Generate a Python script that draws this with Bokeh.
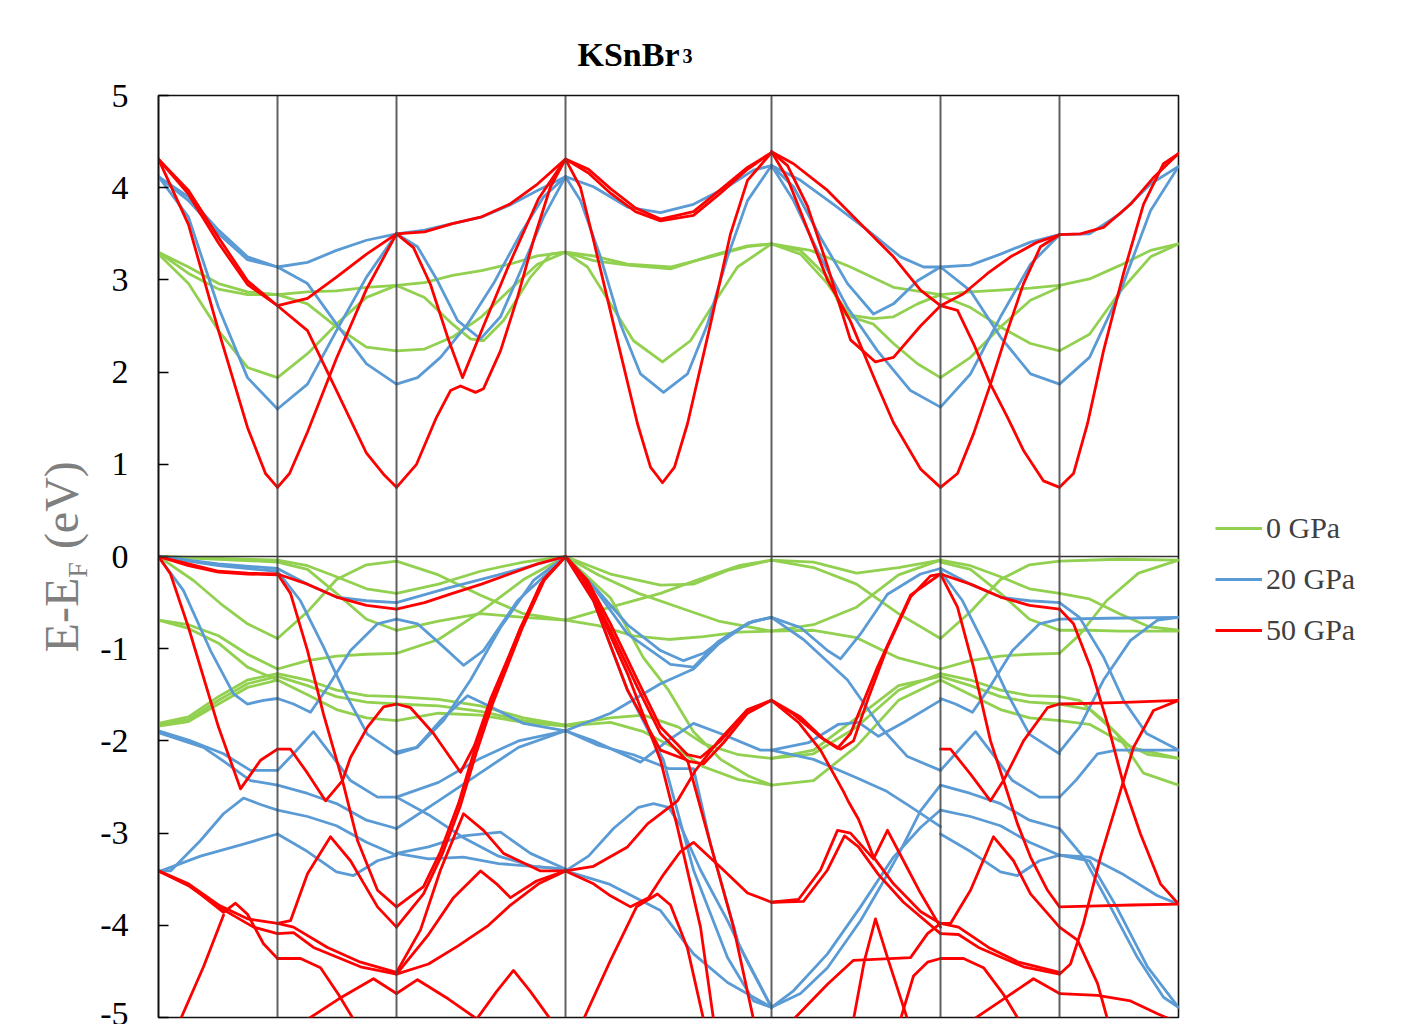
import math
from bokeh.plotting import figure
from bokeh.layouts import column, row
from bokeh.models import Range1d, FixedTicker, Span, Legend, LegendItem
from bokeh.core.properties import value
from bokeh.embed import file_html
from bokeh.resources import INLINE

# ---------------- data ----------------
K_NODES = [0, 119, 238, 407, 613, 782, 901, 1020]
Y_TICKS = [-5, -4, -3, -2, -1, 0, 1, 2, 3, 4, 5]
SERIES = ["0 GPa", "20 GPa", "50 GPa"]
TITLE_MAIN = "KSnBr"
TITLE_SUB = "3"
YLABEL_PARTS = ["E-E", "F", "(eV)"]

green_cb = [
    [(0, 3.30), (30, 3.14), (60, 2.96), (89, 2.87), (119, 2.84)],
    [(0, 3.30), (30, 3.07), (60, 2.90), (89, 2.84), (119, 2.84)],
    [(0, 3.28), (30, 2.96), (60, 2.45), (89, 2.05), (119, 1.94)],
    [(119, 2.84), (149, 2.87), (178, 2.88), (208, 2.92), (238, 2.94)],
    [(119, 2.84), (149, 2.74), (178, 2.49), (208, 2.27), (238, 2.23)],
    [(119, 1.94), (149, 2.20), (178, 2.52), (208, 2.81), (238, 2.94)],
    [(238, 2.94), (266, 2.97), (294, 3.05), (323, 3.10), (351, 3.17), (379, 3.26), (407, 3.30)],
    [(238, 2.23), (266, 2.25), (294, 2.38), (323, 2.60), (351, 2.89), (379, 3.17), (407, 3.30)],
    [(238, 2.94), (266, 2.81), (294, 2.52), (312, 2.36), (325, 2.34), (345, 2.56), (372, 3.03), (392, 3.28), (407, 3.30)],
    [(407, 3.30), (435, 3.26), (469, 3.17), (512, 3.14), (552, 3.25), (589, 3.36), (613, 3.39)],
    [(407, 3.30), (435, 3.21), (469, 3.16), (512, 3.12), (552, 3.26), (589, 3.37), (613, 3.39)],
    [(407, 3.30), (429, 3.14), (452, 2.74), (475, 2.34), (504, 2.11), (532, 2.34), (555, 2.74), (579, 3.14), (613, 3.39)],
    [(613, 3.39), (652, 3.32), (692, 3.14), (735, 2.92), (782, 2.84)],
    [(613, 3.39), (642, 3.32), (669, 3.03), (685, 2.63), (715, 2.58), (735, 2.60), (759, 2.74), (782, 2.84)],
    [(613, 3.39), (642, 3.28), (669, 2.96), (692, 2.60), (715, 2.52), (735, 2.31), (759, 2.09), (782, 1.94)],
    [(782, 2.84), (812, 2.87), (842, 2.89), (872, 2.91), (901, 2.94)],
    [(782, 2.83), (812, 2.70), (842, 2.49), (872, 2.31), (901, 2.23)],
    [(782, 1.94), (812, 2.16), (842, 2.49), (872, 2.78), (901, 2.92)],
    [(901, 2.94), (931, 3.01), (962, 3.16), (992, 3.32), (1020, 3.39)],
    [(901, 2.23), (931, 2.41), (962, 2.88), (992, 3.25), (1020, 3.39)],
]

green_vb = [
    [(0, 0.0), (60, -0.02), (119, -0.04)],
    [(0, 0.0), (60, -0.03), (119, -0.06)],
    [(0, 0.0), (35, -0.26), (62, -0.51), (89, -0.73), (119, -0.89)],
    [(0, -0.69), (30, -0.74), (60, -0.86), (89, -1.06), (119, -1.22)],
    [(0, -0.69), (30, -0.78), (60, -0.94), (89, -1.20), (119, -1.34)],
    [(0, -1.81), (30, -1.74), (60, -1.52), (89, -1.34), (119, -1.27)],
    [(0, -1.83), (30, -1.77), (60, -1.56), (89, -1.38), (119, -1.30)],
    [(0, -1.84), (30, -1.79), (60, -1.60), (89, -1.42), (119, -1.34)],
    [(119, -0.04), (149, -0.10), (178, -0.22), (208, -0.35), (238, -0.40)],
    [(119, -0.06), (149, -0.14), (178, -0.40), (208, -0.68), (238, -0.80)],
    [(119, -0.89), (149, -0.60), (178, -0.25), (208, -0.09), (238, -0.05)],
    [(119, -1.22), (149, -1.13), (178, -1.08), (208, -1.06), (238, -1.05)],
    [(119, -1.27), (149, -1.34), (178, -1.45), (208, -1.51), (238, -1.52)],
    [(119, -1.30), (149, -1.40), (178, -1.52), (208, -1.58), (238, -1.60)],
    [(119, -1.34), (149, -1.50), (178, -1.66), (208, -1.75), (238, -1.78)],
    [(238, -0.05), (280, -0.20), (322, -0.42), (365, -0.62), (407, -0.69)],
    [(238, -0.40), (280, -0.30), (322, -0.16), (365, -0.06), (407, 0.0)],
    [(238, -0.80), (280, -0.70), (322, -0.62), (365, -0.66), (407, -0.69)],
    [(238, -1.05), (280, -0.90), (322, -0.60), (365, -0.25), (407, 0.0)],
    [(238, -1.52), (280, -1.55), (322, -1.62), (365, -1.75), (407, -1.83)],
    [(238, -1.60), (280, -1.62), (322, -1.68), (365, -1.78), (407, -1.83)],
    [(238, -1.78), (280, -1.70), (322, -1.72), (365, -1.80), (407, -1.84)],
    [(407, 0.0), (452, -0.19), (502, -0.31), (535, -0.30), (569, -0.15), (613, -0.04)],
    [(407, -0.69), (452, -0.55), (502, -0.40), (540, -0.25), (580, -0.10), (613, -0.04)],
    [(407, 0.0), (440, -0.20), (480, -0.40), (520, -0.55), (560, -0.70), (613, -0.81)],
    [(407, -0.69), (440, -0.75), (475, -0.86), (510, -0.90), (545, -0.87), (580, -0.82), (613, -0.81)],
    [(407, 0.0), (452, -0.45), (485, -1.10), (510, -1.45), (535, -1.90), (562, -2.20), (590, -2.38), (613, -2.48)],
    [(407, -1.83), (452, -1.75), (485, -1.72), (520, -1.85), (545, -2.03), (580, -2.15), (613, -2.19)],
    [(407, -1.84), (452, -1.80), (485, -1.90), (520, -2.10), (545, -2.28), (580, -2.42), (613, -2.48)],
    [(613, -0.04), (655, -0.06), (698, -0.18), (740, -0.12), (782, -0.04)],
    [(613, -0.04), (655, -0.12), (698, -0.30), (740, -0.62), (782, -0.89)],
    [(613, -0.81), (655, -0.80), (698, -0.88), (740, -1.10), (782, -1.22)],
    [(613, -0.81), (655, -0.74), (698, -0.55), (740, -0.20), (782, -0.04)],
    [(613, -2.19), (655, -2.14), (698, -1.85), (740, -1.45), (782, -1.27)],
    [(613, -2.48), (655, -2.43), (698, -2.06), (740, -1.56), (782, -1.34)],
    [(613, -2.19), (655, -2.10), (698, -1.75), (740, -1.40), (782, -1.30)],
    [(782, -0.04), (812, -0.10), (842, -0.22), (871, -0.35), (901, -0.40)],
    [(782, -0.06), (812, -0.14), (842, -0.40), (871, -0.68), (901, -0.80)],
    [(782, -0.89), (812, -0.60), (842, -0.25), (871, -0.09), (901, -0.05)],
    [(782, -1.22), (812, -1.13), (842, -1.08), (871, -1.06), (901, -1.05)],
    [(782, -1.27), (812, -1.34), (842, -1.45), (871, -1.51), (901, -1.52)],
    [(782, -1.30), (812, -1.40), (842, -1.52), (871, -1.58), (901, -1.60)],
    [(782, -1.34), (812, -1.50), (842, -1.66), (871, -1.75), (901, -1.78)],
    [(901, -0.05), (960, -0.03), (1020, -0.04)],
    [(901, -0.40), (931, -0.46), (961, -0.62), (990, -0.76), (1020, -0.80)],
    [(901, -0.80), (931, -0.80), (961, -0.81), (990, -0.81), (1020, -0.81)],
    [(901, -1.05), (921, -0.85), (948, -0.48), (980, -0.18), (1020, -0.04)],
    [(901, -1.52), (921, -1.56), (945, -1.78), (972, -2.07), (1020, -2.19)],
    [(901, -1.60), (931, -1.66), (958, -1.92), (985, -2.35), (1020, -2.48)],
    [(901, -1.78), (931, -1.82), (961, -2.00), (990, -2.15), (1020, -2.19)],
]

blue_cb = [
    [(0, 4.12), (30, 3.90), (60, 3.54), (89, 3.25), (119, 3.14)],
    [(0, 4.12), (30, 3.86), (60, 3.50), (89, 3.22), (119, 3.14)],
    [(0, 4.12), (30, 3.68), (60, 2.70), (89, 1.94), (119, 1.60)],
    [(119, 3.14), (149, 3.19), (178, 3.32), (208, 3.43), (238, 3.50)],
    [(119, 3.14), (149, 2.96), (178, 2.52), (208, 2.09), (238, 1.87)],
    [(119, 1.60), (149, 1.87), (178, 2.45), (208, 3.03), (238, 3.50)],
    [(238, 3.50), (266, 3.54), (294, 3.61), (323, 3.68), (351, 3.81), (379, 3.97), (407, 4.12)],
    [(238, 3.50), (259, 3.36), (279, 2.99), (299, 2.56), (322, 2.36), (342, 2.60), (365, 3.17), (385, 3.68), (407, 4.12)],
    [(238, 1.87), (259, 1.94), (282, 2.16), (309, 2.52), (335, 2.96), (362, 3.50), (385, 3.90), (407, 4.12)],
    [(407, 4.12), (435, 4.01), (469, 3.79), (502, 3.73), (535, 3.82), (569, 4.01), (595, 4.19), (613, 4.24)],
    [(407, 4.12), (422, 3.86), (442, 3.25), (462, 2.52), (482, 1.98), (505, 1.78), (529, 1.98), (549, 2.52), (569, 3.25), (589, 3.86), (613, 4.24)],
    [(613, 4.24), (642, 4.08), (675, 3.82), (709, 3.54), (742, 3.25), (765, 3.14), (782, 3.14)],
    [(613, 4.24), (635, 4.01), (662, 3.46), (689, 2.96), (715, 2.63), (735, 2.74), (759, 2.99), (782, 3.14)],
    [(613, 4.24), (635, 3.86), (662, 3.25), (689, 2.70), (719, 2.23), (752, 1.80), (782, 1.62)],
    [(782, 3.14), (812, 3.16), (842, 3.28), (872, 3.41), (901, 3.49)],
    [(782, 3.14), (812, 2.88), (842, 2.38), (872, 1.98), (901, 1.87)],
    [(782, 1.62), (812, 1.98), (842, 2.60), (872, 3.17), (901, 3.49)],
    [(901, 3.49), (931, 3.50), (962, 3.72), (992, 4.04), (1020, 4.23)],
    [(901, 1.87), (931, 2.16), (962, 2.88), (992, 3.75), (1020, 4.23)],
]

blue_vb = [
    [(0, 0.0), (60, -0.08), (119, -0.13)],
    [(0, 0.0), (60, -0.10), (119, -0.16)],
    [(0, 0.0), (25, -0.37), (52, -1.02), (75, -1.49), (89, -1.60), (105, -1.56), (119, -1.54)],
    [(0, -1.89), (30, -1.99), (65, -2.14), (92, -2.32), (119, -2.32)],
    [(0, -1.91), (45, -2.07), (65, -2.22), (92, -2.43), (119, -2.48)],
    [(0, -3.41), (12, -3.41), (42, -3.08), (65, -2.79), (85, -2.62), (102, -2.69), (119, -2.75)],
    [(0, -3.42), (42, -3.25), (85, -3.12), (119, -3.01)],
    [(119, -0.13), (149, -0.30), (178, -0.44), (208, -0.48), (238, -0.50)],
    [(119, -0.16), (142, -0.48), (165, -0.98), (185, -1.45), (209, -1.93), (238, -2.14)],
    [(119, -1.54), (135, -1.60), (152, -1.69), (169, -1.42), (192, -1.02), (219, -0.73), (238, -0.68)],
    [(119, -2.32), (135, -2.14), (155, -1.90), (172, -2.14), (192, -2.43), (219, -2.61), (238, -2.61)],
    [(119, -2.48), (149, -2.57), (178, -2.68), (208, -2.86), (238, -2.95)],
    [(119, -2.75), (149, -2.82), (178, -2.92), (208, -3.10), (238, -3.24)],
    [(119, -3.01), (149, -3.20), (178, -3.42), (195, -3.46), (219, -3.30), (238, -3.24)],
    [(238, -0.50), (290, -0.34), (340, -0.20), (407, 0.0)],
    [(238, -0.68), (259, -0.73), (285, -0.98), (305, -1.18), (325, -1.02), (359, -0.48), (407, 0.0)],
    [(238, -2.14), (259, -2.07), (285, -1.78), (312, -1.34), (342, -0.77), (375, -0.26), (407, 0.0)],
    [(238, -2.12), (258, -2.07), (282, -1.78), (309, -1.51), (332, -1.63), (365, -1.81), (407, -1.89)],
    [(238, -2.61), (280, -2.45), (320, -2.20), (360, -2.00), (407, -1.89)],
    [(238, -2.61), (270, -2.80), (305, -3.05), (340, -3.25), (375, -3.36), (407, -3.39)],
    [(238, -3.22), (270, -3.28), (305, -3.26), (340, -3.33), (407, -3.39)],
    [(238, -3.22), (270, -3.15), (305, -3.03), (342, -2.99), (372, -3.22), (407, -3.39)],
    [(238, -2.95), (280, -2.65), (320, -2.36), (360, -2.07), (407, -1.89)],
    [(407, 0.0), (440, -0.38), (469, -0.74), (502, -1.02), (525, -1.13), (545, -1.05), (570, -0.85), (595, -0.70), (613, -0.66)],
    [(407, 0.0), (435, -0.33), (469, -0.84), (512, -1.17), (535, -1.20), (560, -0.92), (590, -0.72), (613, -0.66)],
    [(407, -1.89), (452, -1.70), (502, -1.38), (535, -1.22), (560, -0.95), (590, -0.72), (613, -0.66)],
    [(407, 0.0), (435, -0.48), (469, -1.45), (505, -2.21), (535, -3.40), (569, -4.35), (595, -4.82), (613, -4.89)],
    [(407, -1.89), (440, -2.05), (475, -2.15), (510, -2.30), (535, -2.30), (552, -3.12), (580, -4.20), (613, -4.89)],
    [(407, -3.41), (450, -3.55), (502, -3.84), (535, -4.31), (569, -4.62), (613, -4.89)],
    [(407, -1.89), (435, -2.00), (482, -2.23), (509, -2.00), (535, -1.81), (562, -1.92), (602, -2.10), (613, -2.10)],
    [(407, -3.41), (430, -3.25), (455, -2.95), (480, -2.72), (495, -2.68), (510, -2.72), (522, -2.92), (542, -3.40), (569, -3.95), (589, -4.40), (613, -4.89)],
    [(613, -0.66), (642, -0.77), (669, -1.02), (682, -1.11), (702, -0.84), (729, -0.41), (762, -0.19), (782, -0.13)],
    [(613, -0.66), (645, -0.90), (689, -1.34), (722, -1.85), (749, -2.17), (782, -2.32)],
    [(613, -2.10), (650, -2.02), (680, -1.82), (700, -1.80), (720, -1.95), (745, -1.80), (782, -1.56)],
    [(613, -2.10), (655, -2.20), (698, -2.40), (727, -2.54), (750, -2.70), (782, -2.93)],
    [(613, -4.89), (635, -4.71), (669, -4.31), (702, -3.80), (735, -3.26), (762, -2.94), (782, -2.75)],
    [(613, -4.89), (642, -4.74), (669, -4.46), (702, -3.95), (722, -3.58), (742, -3.19), (762, -2.76), (782, -2.48)],
    [(782, -0.13), (812, -0.30), (842, -0.44), (871, -0.48), (901, -0.50)],
    [(782, -0.16), (804, -0.48), (827, -0.98), (847, -1.45), (871, -1.93), (901, -2.14)],
    [(782, -1.54), (797, -1.60), (814, -1.69), (831, -1.42), (854, -1.02), (881, -0.73), (901, -0.68)],
    [(782, -2.32), (797, -2.14), (817, -1.90), (834, -2.14), (854, -2.43), (881, -2.61), (901, -2.61)],
    [(782, -2.48), (812, -2.57), (842, -2.68), (871, -2.86), (901, -2.95)],
    [(782, -2.75), (812, -2.82), (842, -2.92), (871, -3.10), (901, -3.24)],
    [(782, -3.01), (812, -3.20), (842, -3.42), (859, -3.46), (881, -3.30), (901, -3.24)],
    [(901, -0.68), (950, -0.67), (1020, -0.66)],
    [(901, -0.50), (921, -0.66), (945, -1.09), (965, -1.56), (988, -1.92), (1020, -2.10)],
    [(901, -2.12), (921, -1.85), (945, -1.34), (972, -0.91), (999, -0.69), (1020, -0.66)],
    [(901, -2.61), (918, -2.42), (939, -2.14), (958, -2.10), (1020, -2.10)],
    [(901, -2.95), (925, -3.26), (952, -3.80), (979, -4.35), (1005, -4.78), (1020, -4.89)],
    [(901, -3.24), (931, -3.26), (965, -3.45), (999, -3.68), (1020, -3.77)],
    [(901, -3.24), (931, -3.30), (958, -3.80), (989, -4.45), (1020, -4.89)],
]

red_cb = [
    [(0, 4.31), (30, 3.60), (60, 2.45), (89, 1.40), (107, 0.90), (119, 0.75)],
    [(0, 4.31), (30, 3.97), (60, 3.46), (89, 2.99), (119, 2.72)],
    [(0, 4.31), (30, 3.93), (60, 3.40), (89, 2.95), (119, 2.72)],
    [(119, 0.75), (131, 0.90), (149, 1.35), (178, 2.15), (208, 2.90), (238, 3.50)],
    [(119, 2.72), (149, 2.45), (178, 1.80), (208, 1.12), (226, 0.88), (238, 0.75)],
    [(119, 2.72), (149, 2.80), (178, 3.03), (208, 3.28), (238, 3.50)],
    [(238, 3.50), (266, 3.52), (294, 3.61), (322, 3.68), (351, 3.82), (379, 4.04), (407, 4.31)],
    [(238, 3.50), (255, 3.35), (272, 2.95), (290, 2.35), (304, 1.94), (325, 2.50), (350, 3.15), (380, 3.88), (407, 4.31)],
    [(238, 0.75), (258, 1.00), (278, 1.51), (292, 1.80), (302, 1.85), (317, 1.78), (325, 1.82), (342, 2.23), (359, 2.81), (375, 3.43), (392, 4.01), (407, 4.31)],
    [(407, 4.31), (430, 4.20), (452, 3.99), (477, 3.78), (502, 3.66), (535, 3.74), (562, 3.98), (589, 4.22), (613, 4.38)],
    [(407, 4.31), (430, 4.16), (452, 3.94), (477, 3.74), (502, 3.64), (535, 3.70), (562, 3.94), (589, 4.20), (613, 4.38)],
    [(407, 4.31), (422, 4.00), (435, 3.43), (455, 2.52), (479, 1.44), (492, 0.97), (504, 0.80), (516, 0.97), (529, 1.44), (552, 2.52), (572, 3.50), (589, 4.08), (613, 4.38)],
    [(613, 4.39), (635, 4.26), (669, 3.97), (702, 3.61), (735, 3.25), (762, 2.89), (782, 2.72)],
    [(613, 4.39), (629, 4.24), (649, 3.80), (669, 3.15), (692, 2.35), (717, 2.11), (735, 2.16), (762, 2.50), (782, 2.72)],
    [(613, 4.39), (629, 4.10), (649, 3.55), (669, 3.00), (692, 2.55), (717, 1.90), (735, 1.45), (762, 0.95), (782, 0.75)],
    [(782, 2.72), (805, 2.85), (829, 3.07), (852, 3.25), (879, 3.41), (901, 3.49)],
    [(782, 2.72), (799, 2.67), (815, 2.31), (832, 1.87), (849, 1.51), (865, 1.15), (885, 0.82), (901, 0.75)],
    [(782, 0.75), (799, 0.90), (815, 1.33), (832, 1.87), (849, 2.45), (865, 2.96), (882, 3.36), (901, 3.49)],
    [(901, 3.49), (922, 3.50), (945, 3.57), (972, 3.82), (995, 4.11), (1020, 4.37)],
    [(901, 0.75), (915, 0.90), (929, 1.44), (945, 2.23), (965, 3.07), (985, 3.82), (1005, 4.26), (1020, 4.37)],
]

red_vb = [
    [(0, 0.0), (30, -0.08), (60, -0.16), (89, -0.18), (119, -0.19)],
    [(0, 0.0), (30, -0.10), (60, -0.17), (89, -0.19), (119, -0.20)],
    [(0, 0.0), (12, -0.19), (30, -0.77), (60, -1.85), (82, -2.52), (102, -2.21), (119, -2.09)],
    [(0, -3.41), (30, -3.55), (60, -3.78), (89, -3.93), (119, -3.98)],
    [(0, -3.41), (30, -3.57), (60, -3.80), (95, -4.02), (119, -4.09)],
    [(0, -3.41), (30, -3.56), (65, -3.86), (77, -3.76), (89, -3.88), (105, -4.20), (119, -4.36)],
    [(22, -5.02), (45, -4.45), (65, -3.89)],
    [(119, -0.19), (149, -0.30), (178, -0.44), (208, -0.53), (238, -0.57)],
    [(119, -0.19), (132, -0.40), (149, -1.02), (165, -1.71), (184, -2.43), (199, -3.08), (219, -3.62), (238, -3.80)],
    [(119, -2.09), (132, -2.09), (149, -2.35), (167, -2.65), (184, -2.43), (192, -2.18), (209, -1.85), (225, -1.63), (238, -1.60)],
    [(119, -3.98), (132, -3.95), (149, -3.44), (172, -3.04), (192, -3.30), (219, -3.80), (238, -4.02)],
    [(119, -3.98), (135, -4.02), (169, -4.24), (202, -4.40), (238, -4.51)],
    [(119, -4.09), (135, -4.08), (155, -4.24), (202, -4.45), (238, -4.53)],
    [(119, -4.36), (142, -4.36), (162, -4.46), (180, -4.75), (195, -5.02)],
    [(149, -5.02), (180, -4.80), (215, -4.58), (238, -4.74)],
    [(238, -0.57), (266, -0.50), (294, -0.40), (323, -0.30), (351, -0.19), (379, -0.08), (407, 0.0)],
    [(238, -1.60), (252, -1.64), (275, -1.92), (302, -2.34), (316, -2.05), (332, -1.55), (359, -0.86), (382, -0.30), (407, 0.0)],
    [(238, -3.80), (265, -3.58), (282, -3.20), (300, -2.68), (316, -2.10), (332, -1.60), (362, -0.77), (385, -0.25), (407, 0.0)],
    [(238, -4.02), (265, -3.66), (284, -3.22), (302, -2.70), (318, -2.12), (334, -1.60), (364, -0.77), (386, -0.25), (407, 0.0)],
    [(238, -4.51), (262, -4.05), (282, -3.40), (305, -2.79), (325, -2.97), (345, -3.22), (382, -3.41), (407, -3.41)],
    [(238, -4.53), (270, -4.10), (295, -3.70), (322, -3.41), (338, -3.55), (352, -3.70), (378, -3.52), (407, -3.41)],
    [(238, -4.53), (270, -4.42), (300, -4.22), (330, -4.00), (352, -3.78), (380, -3.55), (407, -3.41)],
    [(238, -4.74), (259, -4.59), (290, -4.80), (319, -5.02)],
    [(318, -5.02), (338, -4.72), (355, -4.49), (372, -4.72), (392, -5.02)],
    [(407, 0.0), (429, -0.26), (452, -0.73), (479, -1.34), (502, -1.85), (529, -2.15), (542, -2.18), (562, -2.00), (589, -1.67), (613, -1.56)],
    [(407, 0.0), (429, -0.30), (452, -0.80), (479, -1.42), (502, -1.92), (529, -2.22), (545, -2.25), (565, -2.02), (589, -1.70), (613, -1.56)],
    [(407, 0.0), (422, -0.19), (442, -0.62), (469, -1.27), (502, -2.21), (519, -2.94), (542, -4.02), (555, -5.02)],
    [(407, 0.0), (435, -0.48), (469, -1.45), (502, -2.10), (529, -2.21), (552, -3.12), (575, -4.02), (595, -5.02)],
    [(407, -3.41), (435, -3.36), (469, -3.15), (489, -2.90), (519, -2.65), (537, -2.32), (560, -2.00), (589, -1.66), (613, -1.56)],
    [(407, -3.41), (435, -3.55), (452, -3.68), (472, -3.80), (490, -3.70), (505, -3.45), (522, -3.20), (535, -3.10), (562, -3.37), (589, -3.65), (613, -3.75)],
    [(425, -5.02), (452, -4.38), (478, -3.80), (499, -3.66), (512, -3.78), (529, -4.25), (545, -5.02)],
    [(613, -1.56), (635, -1.71), (662, -1.96), (682, -2.09), (695, -2.00), (709, -1.56), (729, -0.98), (752, -0.44), (772, -0.21), (782, -0.19)],
    [(613, -1.56), (642, -1.74), (665, -1.98), (679, -2.08), (692, -1.92), (719, -1.20), (752, -0.42), (782, -0.19)],
    [(613, -1.56), (640, -1.80), (662, -2.10), (685, -2.55), (690, -2.66), (700, -2.85), (715, -3.26), (735, -3.55), (762, -3.85), (782, -3.98)],
    [(613, -3.75), (640, -3.72), (662, -3.40), (679, -2.97), (692, -3.00), (715, -3.28), (729, -2.97), (745, -3.30), (762, -3.65), (782, -4.02)],
    [(613, -3.75), (645, -3.74), (669, -3.40), (686, -3.03), (700, -3.15), (720, -3.45), (745, -3.75), (782, -4.09)],
    [(635, -5.02), (669, -4.64), (695, -4.38), (752, -4.35), (769, -4.09), (782, -3.98)],
    [(742, -5.02), (755, -4.55), (769, -4.40), (782, -4.36)],
    [(695, -5.02), (706, -4.38), (717, -3.93), (729, -4.35), (749, -5.02)],
    [(782, -0.19), (812, -0.30), (842, -0.44), (871, -0.53), (901, -0.57)],
    [(782, -0.19), (799, -0.55), (815, -1.20), (832, -2.00), (845, -2.43), (859, -2.90), (872, -3.26), (889, -3.62), (901, -3.80)],
    [(782, -2.09), (792, -2.09), (812, -2.36), (832, -2.65), (845, -2.43), (865, -2.00), (889, -1.64), (901, -1.60)],
    [(782, -3.98), (792, -3.98), (812, -3.62), (835, -3.04), (855, -3.30), (872, -3.66), (901, -4.02)],
    [(782, -3.98), (800, -4.02), (830, -4.24), (860, -4.40), (901, -4.51)],
    [(782, -4.09), (800, -4.10), (820, -4.24), (865, -4.45), (901, -4.53)],
    [(782, -4.36), (805, -4.36), (825, -4.46), (845, -4.75), (860, -5.02)],
    [(815, -5.02), (845, -4.80), (875, -4.58), (901, -4.74)],
    [(901, -0.57), (915, -0.73), (932, -1.20), (949, -1.81), (965, -2.47), (982, -3.01), (1002, -3.55), (1020, -3.77)],
    [(901, -1.60), (940, -1.59), (973, -1.58), (1020, -1.56)],
    [(901, -3.80), (940, -3.79), (973, -3.78), (1020, -3.77)],
    [(901, -4.53), (912, -4.42), (925, -3.98), (942, -3.26), (959, -2.65), (975, -2.07), (995, -1.67), (1020, -1.56)],
    [(901, -4.02), (919, -4.16), (939, -4.63), (949, -5.02)],
    [(901, -4.74), (939, -4.76), (972, -4.82), (999, -4.96), (1012, -5.02)],
]

# ---------------- style ----------------
COLORS = {"0 GPa": "#92D050", "20 GPa": "#5B9BD5", "50 GPa": "#FF0000"}
SERIF = "Liberation Serif"
YLABEL_COLOR = "#7f7f7f"


def bare(fig):
    fig.outline_line_color = None
    fig.xgrid.visible = False
    fig.ygrid.visible = False
    return fig


# ---------------- title strip ----------------
tfig = bare(figure(width=1392, height=75, output_backend="svg", toolbar_location=None,
                   x_range=Range1d(0, 1392), y_range=Range1d(0, 75),
                   x_axis_location=None, y_axis_location=None,
                   min_border_left=0, min_border_right=0, min_border_top=0, min_border_bottom=0))
tfig.text(x=[577], y=[21], text=[TITLE_MAIN], text_font=value(SERIF), text_font_size="34px",
          text_font_style="bold", text_color="black", text_align="left", text_baseline="alphabetic")
tfig.text(x=[682], y=[20], text=[TITLE_SUB], text_font=value(SERIF), text_font_size="20px",
          text_font_style="bold", text_color="black", text_align="left", text_baseline="alphabetic")

# ---------------- y label strip ----------------
lfig = bare(figure(width=92, height=949, output_backend="svg", toolbar_location=None,
                   x_range=Range1d(0, 92), y_range=Range1d(-5, 5),
                   x_axis_location=None, y_axis_location=None,
                   min_border_left=0, min_border_right=0, min_border_top=20, min_border_bottom=7))
lfig.text(x=[61], y=[-1.04], text=[YLABEL_PARTS[0]], angle=math.pi / 2,
          text_font=value(SERIF), text_font_size="48px", text_color=YLABEL_COLOR,
          text_align="left", text_baseline="alphabetic")
lfig.text(x=[77], y=[-0.23], text=[YLABEL_PARTS[1]], angle=math.pi / 2,
          text_font=value(SERIF), text_font_size="28px", text_color=YLABEL_COLOR,
          text_align="left", text_baseline="alphabetic")
lfig.text(x=[61], y=[0.08], text=[YLABEL_PARTS[2]], angle=math.pi / 2,
          text_font=value(SERIF), text_font_size="48px", text_color=YLABEL_COLOR,
          text_align="left", text_baseline="alphabetic")

# ---------------- main plot ----------------
p = figure(width=1090, height=949, output_backend="svg", toolbar_location=None,
           x_range=Range1d(0, 1020), y_range=Range1d(-5, 5),
           x_axis_location=None, min_border_left=66, min_border_right=4,
           min_border_top=20, min_border_bottom=7,
           background_fill_color="white", border_fill_color="white")
p.xgrid.visible = False
p.ygrid.visible = False
p.outline_line_color = "#111111"
p.outline_line_width = 1.6

ax = p.yaxis[0]
ax.ticker = FixedTicker(ticks=Y_TICKS)
ax.major_label_overrides = {t: str(t) for t in Y_TICKS}
ax.major_label_text_font = SERIF
ax.major_label_text_font_size = "34px"
ax.major_label_text_color = "black"
ax.major_tick_in = 10
ax.major_tick_out = 0
ax.minor_tick_in = 0
ax.minor_tick_out = 0
ax.major_tick_line_color = "black"
ax.major_tick_line_width = 1.5
ax.axis_line_color = "#111111"
ax.axis_line_width = 1.6
ax.major_label_standoff = 30

p.add_layout(Span(location=0, dimension="width", line_color="#333333", line_width=1.6))

for name, groups in (("0 GPa", green_cb + green_vb),
                     ("20 GPa", blue_cb + blue_vb),
                     ("50 GPa", red_cb + red_vb)):
    xs = [[pt[0] for pt in c] for c in groups]
    ys = [[pt[1] for pt in c] for c in groups]
    p.multi_line(xs=xs, ys=ys, line_color=COLORS[name], line_width=2.8,
                 line_join="round", line_cap="round")

for k in K_NODES[1:-1]:
    p.add_layout(Span(location=k, dimension="height", line_color="#444444",
                      line_width=2, line_alpha=0.85))

# ---------------- legend strip ----------------
rfig = bare(figure(width=210, height=949, output_backend="svg", toolbar_location=None,
                   x_range=Range1d(0, 210), y_range=Range1d(0, 949),
                   x_axis_location=None, y_axis_location=None,
                   min_border_left=0, min_border_right=0, min_border_top=0, min_border_bottom=0))
items = []
nan = float("nan")
for name in SERIES:
    # legend-only renderer: no visible data points, only its legend swatch is drawn
    r = rfig.line(x=[nan, nan], y=[nan, nan], line_color=COLORS[name], line_width=3)
    items.append(LegendItem(label=name, renderers=[r]))
legend = Legend(items=items, location=(33, 370), orientation="vertical",
                glyph_width=47, glyph_height=34, label_height=34, label_standoff=4,
                spacing=17, padding=0, margin=0,
                label_text_font=SERIF, label_text_font_size="30px",
                label_text_color="#404040",
                border_line_color=None, background_fill_alpha=0)
rfig.add_layout(legend)

layout = column(tfig, row(lfig, p, rfig, spacing=0), spacing=0)
open("out.html", "w").write(file_html(layout, INLINE))
